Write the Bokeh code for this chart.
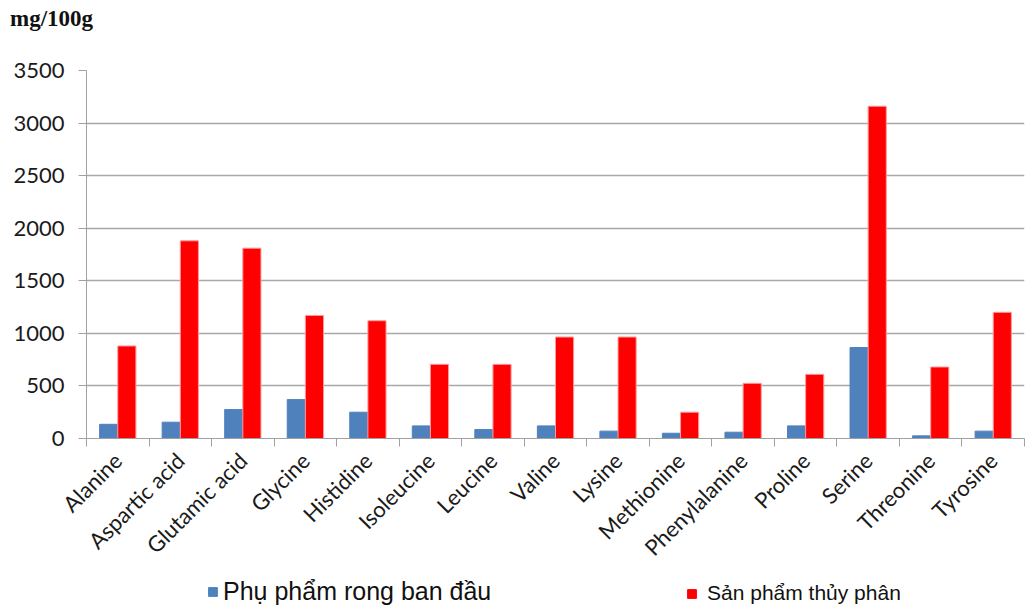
import math
from bokeh.plotting import figure
from bokeh.layouts import column
from bokeh.models import (Range1d, FixedTicker, Legend, LegendItem, Div, ColumnDataSource)
from bokeh.transform import dodge
from bokeh.embed import file_html
from bokeh.resources import INLINE

categories = ["Alanine", "Aspartic acid", "Glutamic acid", "Glycine", "Histidine",
              "Isoleucine", "Leucine", "Valine", "Lysine", "Methionine",
              "Phenylalanine", "Proline", "Serine", "Threonine", "Tyrosine"]
raw_values = [135, 155, 275, 370, 250, 120, 85, 120, 70, 50, 60, 120, 865, 25, 70]
hydrolysed_values = [880, 1880, 1810, 1170, 1120, 705, 705, 965, 965, 250, 525, 610, 3160, 680, 1200]
series_names = ["Phụ phẩm rong ban đầu", "Sản phẩm thủy phân"]
series_colors = ["#4F81BD", "#FF0000"]
y_ticks = [0, 500, 1000, 1500, 2000, 2500, 3000, 3500]
unit_label = "mg/100g"

n = len(categories)
slot_centers = [i + 0.5 for i in range(n)]
slot_edges = list(range(n + 1))

src = ColumnDataSource(dict(pos=slot_centers, cat=categories, raw=raw_values, hyd=hydrolysed_values))

head = Div(text=unit_label, width=1026, height=34, margin=0,
           styles={"font-family": "Liberation Serif", "font-weight": "bold",
                   "font-size": "23px", "color": "#111111",
                   "padding-left": "10px", "padding-top": "6px", "line-height": "26px"})

p = figure(x_range=Range1d(0, n), y_range=Range1d(0, 3500),
           width=1026, height=542, output_backend="svg", toolbar_location=None,
           min_border_left=86, min_border_right=2, min_border_top=36, min_border_bottom=138)
p.outline_line_color = None
p.background_fill_color = "white"
p.border_fill_color = "white"

bw = 0.29
r1 = p.vbar(x=dodge("pos", -bw / 2), top="raw", width=bw, source=src,
            fill_color=series_colors[0], line_color=series_colors[0], line_width=1)
r2 = p.vbar(x=dodge("pos", bw / 2), top="hyd", width=bw, source=src,
            fill_color=series_colors[1], line_color="#FF9A9A", line_width=1)

grey = "#A0A0A0"
p.yaxis.ticker = FixedTicker(ticks=y_ticks)
p.yaxis.axis_line_color = grey
p.yaxis.major_tick_line_color = grey
p.yaxis.major_tick_out = 8
p.yaxis.major_tick_in = 0
p.yaxis.minor_tick_line_color = None
p.yaxis.major_label_text_font = "Lato"
p.yaxis.major_label_text_font_size = "22px"
p.yaxis.major_label_text_color = "#1a1a1a"
p.yaxis.major_label_standoff = 14
p.ygrid.ticker = FixedTicker(ticks=y_ticks)
p.ygrid.grid_line_color = "#A8A8A8"
p.ygrid.grid_line_width = 1.3
p.xgrid.visible = False

xa = p.xaxis[0]
xa.ticker = FixedTicker(ticks=slot_centers, minor_ticks=slot_edges)
xa.major_label_overrides = {c: name for c, name in zip(slot_centers, categories)}
xa.axis_line_color = grey
xa.major_tick_line_color = None
xa.major_tick_out = 6
xa.major_tick_in = 0
xa.minor_tick_line_color = grey
xa.minor_tick_out = 8
xa.minor_tick_in = 0
xa.major_label_orientation = math.pi / 4
xa.major_label_text_font = "Lato"
xa.major_label_text_font_size = "22px"
xa.major_label_text_color = "#1a1a1a"
xa.major_label_standoff = 10

# legend strip below the chart; its key glyphs come from hidden bar renderers
lg = figure(width=1026, height=31, output_backend="svg", toolbar_location=None,
            x_axis_location=None, y_axis_location=None, min_border=0,
            x_range=Range1d(0, n), y_range=Range1d(0, 3500))
lg.outline_line_color = None
lg.grid.visible = False
lg.background_fill_color = "white"
lg.border_fill_color = "white"
k1 = lg.vbar(x="pos", top="raw", width=bw, source=src, visible=False,
             fill_color=series_colors[0], line_color=series_colors[0])
k2 = lg.vbar(x="pos", top="hyd", width=bw, source=src, visible=False,
             fill_color=series_colors[1], line_color=series_colors[1])

common = dict(padding=0, margin=0, border_line_color=None, background_fill_alpha=0,
              glyph_width=11, glyph_height=11, spacing=0, label_text_font="Liberation Sans",
              label_text_color="#111111", inactive_fill_alpha=0)
leg1 = Legend(items=[LegendItem(label=series_names[0], renderers=[k1])],
              location=(121, 1), label_standoff=5, label_text_font_size="25px", **common)
leg2 = Legend(items=[LegendItem(label=series_names[1], renderers=[k2])],
              location=(600, 2), label_standoff=10, label_text_font_size="21px", **common)
lg.add_layout(leg1, "center")
lg.add_layout(leg2, "center")

open("out.html", "w").write(file_html(column(head, p, lg, spacing=0), INLINE))
